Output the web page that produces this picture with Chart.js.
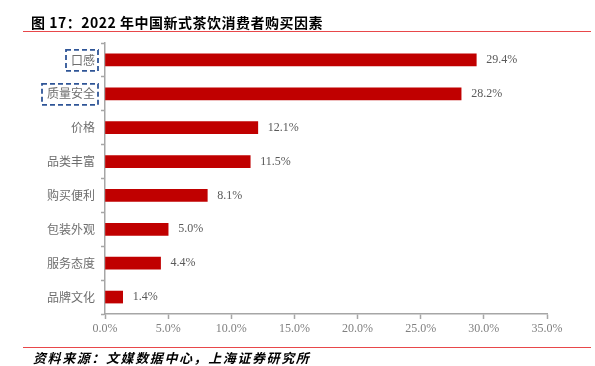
<!DOCTYPE html>
<html>
<head>
<meta charset="utf-8">
<script src="https://cdn.jsdelivr.net/npm/chart.js@4"></script>
<style>
  body { margin: 0; background: #fff; }
  #wrap { position: relative; width: 595px; height: 366px; }
  #title { position: absolute; left: 31px; top: 12px; font: bold 14px 'Noto Sans CJK SC', sans-serif; color: #000; letter-spacing: 0.5px; }
  .rule { position: absolute; left: 23px; width: 568px; height: 1px; background: #E8474A; }
  #source { position: absolute; left: 33px; top: 348px; font: italic bold 13px 'Noto Sans CJK SC', sans-serif; color: #000; letter-spacing: 1.6px; }
  canvas { position: absolute; left: 0; top: 0; }
</style>
</head>
<body>
<div id="wrap">
  <canvas id="chart" width="595" height="366"></canvas>
  <div id="title">图 17：2022 年中国新式茶饮消费者购买因素</div>
  <div class="rule" style="top:31px"></div>
  <div class="rule" style="top:347px"></div>
  <div id="source">资料来源：文媒数据中心，上海证券研究所</div>
</div>
<script>
// categories and values (%)
const factors = ['口感', '质量安全', '价格', '品类丰富', '购买便利', '包装外观', '服务态度', '品牌文化'];
const shares = [29.4, 28.2, 12.1, 11.5, 8.1, 5.0, 4.4, 1.4];
const highlighted = ['口感', '质量安全'];
const xMax = 35;
const xStep = 5;

const axisGrey = '#A6A6A6';
const barRed = '#C00000';

// value labels at the end of each bar
const valueLabels = {
    id: 'valueLabels',
    afterDatasetsDraw(chart) {
        const ctx = chart.ctx;
        const meta = chart.getDatasetMeta(0);
        ctx.save();
        ctx.font = "12px 'Liberation Serif', serif";
        ctx.fillStyle = '#595959';
        ctx.textAlign = 'left';
        ctx.textBaseline = 'middle';
        meta.data.forEach((bar, i) => {
            ctx.fillText(shares[i].toFixed(1) + '%', bar.x + 10, bar.y);
        });
        ctx.restore();
    }
};

// dashed boxes round the highlighted category labels
const dashedBoxes = {
    id: 'dashedBoxes',
    afterDraw(chart) {
        const ctx = chart.ctx;
        const y = chart.scales.y;
        ctx.save();
        ctx.font = "12px 'Noto Sans CJK SC', sans-serif";
        ctx.strokeStyle = '#2F5597';
        ctx.lineWidth = 1.8;
        ctx.setLineDash([5, 3]);
        highlighted.forEach(name => {
            const idx = factors.indexOf(name);
            const cy = y.getPixelForValue(idx);
            const w = ctx.measureText(name).width;
            const right = y.right - 7;
            const left = right - w - 8;
            ctx.strokeRect(left, cy - 10, right - left, 21);
        });
        ctx.restore();
    }
};

new Chart(document.getElementById('chart'), {
    type: 'bar',
    data: {
        labels: factors,
        datasets: [{
            data: shares,
            backgroundColor: barRed,
            barThickness: 12
        }]
    },
    plugins: [valueLabels, dashedBoxes],
    options: {
        indexAxis: 'y',
        responsive: false,
        animation: false,
        layout: { padding: { top: 43, right: 48, left: 0, bottom: 0 } },
        plugins: {
            legend: { display: false },
            tooltip: { enabled: false }
        },
        scales: {
            x: {
                min: 0,
                max: xMax,
                afterFit(scale) { scale.height = 52; },
                border: { color: axisGrey, width: 1.5 },
                grid: { drawOnChartArea: false, tickLength: 5, tickColor: axisGrey, tickWidth: 1.5 },
                ticks: {
                    stepSize: xStep,
                    padding: 3,
                    color: '#808080',
                    font: { family: "'Liberation Serif', serif", size: 12 },
                    callback: v => v.toFixed(1) + '%'
                }
            },
            y: {
                afterFit(scale) { scale.width = 105; },
                border: { color: axisGrey, width: 1.5 },
                grid: { drawOnChartArea: false, offset: true, tickLength: 4, tickColor: axisGrey, tickWidth: 1.5 },
                ticks: {
                    padding: 6,
                    color: '#6E6E6E',
                    font: { family: "'Noto Sans CJK SC', sans-serif", size: 12 }
                }
            }
        }
    }
});
</script>
</body>
</html>
